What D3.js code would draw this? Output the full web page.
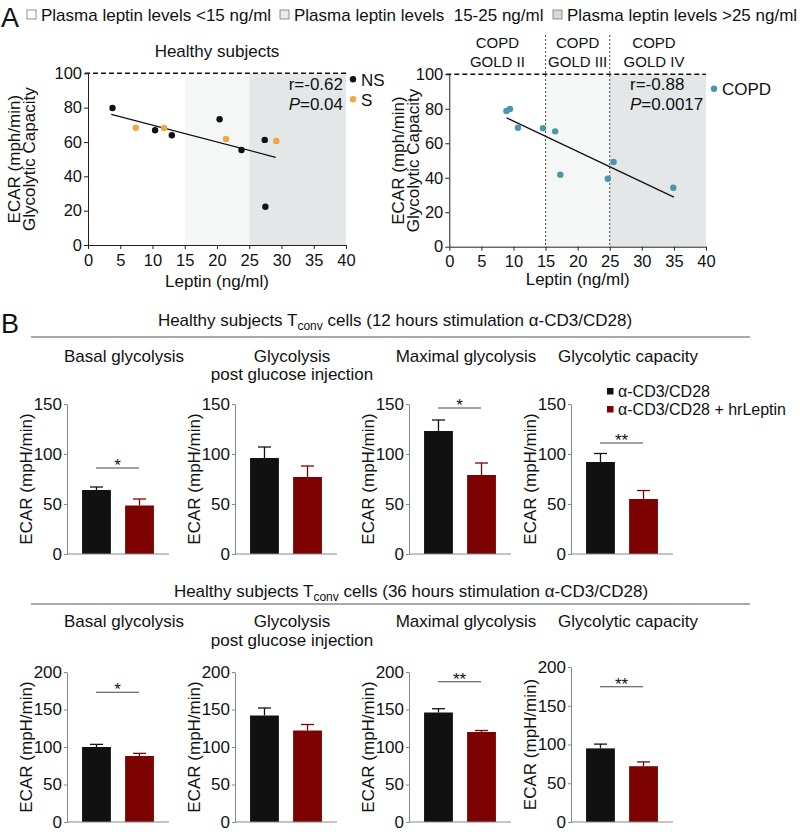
<!DOCTYPE html>
<html>
<head>
<meta charset="utf-8">
<script src="https://d3js.org/d3.v7.min.js"></script>
<style>
  body { margin: 0; background: #fff; }
  svg text { font-family: "Liberation Sans", Arial, sans-serif; fill: #111; }
</style>
</head>
<body>
<svg id="fig" width="800" height="832"></svg>
<script>
// ---------- panel A: leptin vs glycolytic capacity ----------
var nsLeptin = [3.8, 10.4, 13.0, 20.4, 23.8, 27.4, 27.5];
var nsEcar = [79.8, 66.8, 63.9, 73.2, 55.3, 61.2, 22.3];
var sLeptin = [7.4, 11.8, 21.4, 29.2];
var sEcar = [68.3, 68.1, 61.7, 60.6];
var copdLeptin = [8.9, 9.45, 10.7, 14.6, 16.5, 17.3, 24.7, 25.6, 34.9];
var copdEcar = [78.7, 79.9, 69, 68.7, 66.9, 41.8, 39.4, 49.1, 34.2];
var healthyFit = [[3.6, 76.1], [29.1, 51.1]];
var copdFit = [[8.9, 74.8], [35, 28.8]];
var healthyStats = ["r=-0.62", "0.04"];
var copdStats = ["r=-0.88", "0.0017"];

var leptinTicks = [0, 5, 10, 15, 20, 25, 30, 35, 40];
var ecarTicks = [0, 20, 40, 60, 80, 100];
var bandLabels = ["Plasma leptin levels <15 ng/ml", "Plasma leptin levels  15-25 ng/ml", "Plasma leptin levels >25 ng/ml"];
var bandColors = ["#ffffff", "#f5f6f6", "#e4e7e8"];
var bandEdges = [0, 15, 25, 40];
var goldStages = ["GOLD II", "GOLD III", "GOLD IV"];
var goldCentres = [7.5, 20, 31.9];

// ---------- panel B: ECAR bars ----------
var measures = [["Basal glycolysis"], ["Glycolysis", "post glucose injection"], ["Maximal glycolysis"], ["Glycolytic capacity"]];
var groups = ["α-CD3/CD28", "α-CD3/CD28 + hrLeptin"];
var ctrl12 = [64, 96, 123, 92];
var ctrl12Sem = [3, 11, 11, 8.5];
var lep12 = [48.5, 77, 79, 55];
var lep12Sem = [6.5, 11, 12, 8.5];
var sig12 = ["*", "", "*", "**"];
var sig12At = [86, null, 146, 111];
var ctrl36 = [100, 142, 146, 95];
var ctrl36Sem = [3.5, 10, 5, 5.5];
var lep36 = [88, 122, 120, 72];
var lep36Sem = [3.5, 8, 2, 5.5];
var sig36 = ["*", "", "**", "**"];
var sig36At = [173, null, 187, 174.5];
var ticks12 = [0, 50, 100, 150];
var ticks36 = [0, 50, 100, 150, 200];

var barColors = ["#111111", "#7d0202"];
var chartX = [67, 235, 409, 571];

var svg = d3.select("#fig");

gen_top_legend();
gen_scatter({
  xr: [88, 346], yr: [245, 73.3],
  gold: false,
  title: "Healthy subjects",
  series: [{ x: nsLeptin, y: nsEcar, c: "#111" }, { x: sLeptin, y: sEcar, c: "#f2a541" }],
  fit: healthyFit, stats: healthyStats, statsX: 343, statsAnchor: "end",
  legend: [["NS", "#111", 79.3], ["S", "#f2a541", 99.3]], legendX: 353,
  labelX: [14, 29], xLabelY: 287
});
gen_scatter({
  xr: [449.3, 706], yr: [246.7, 74.3],
  gold: true,
  title: null,
  series: [{ x: copdLeptin, y: copdEcar, c: "#4a96ad" }],
  fit: copdFit, stats: copdStats, statsX: 630, statsAnchor: "start",
  legend: [["COPD", "#4a96ad", 88.7]], legendX: 714,
  labelX: [398, 413], xLabelY: 285
});

gen_bar_row({
  letter: true, header: "(12 hours stimulation α-CD3/CD28)", headerX: 395, headerY: 326, lineY: 337,
  titleY: [362, 380], base: 554, top: [404, 404, 404, 404], max: 150, ticks: ticks12,
  ctrl: ctrl12, ctrlSem: ctrl12Sem, lep: lep12, lepSem: lep12Sem, sig: sig12, sigAt: sig12At, legend: true
});
gen_bar_row({
  letter: false, header: "(36 hours stimulation α-CD3/CD28)", headerX: 411, headerY: 597, lineY: 604,
  titleY: [627, 646], base: 822, top: [672, 672, 672, 667], max: 200, ticks: ticks36,
  ctrl: ctrl36, ctrlSem: ctrl36Sem, lep: lep36, lepSem: lep36Sem, sig: sig36, sigAt: sig36At, legend: false
});

function gen_top_legend() {
  svg.append("text").attr("x", 1).attr("y", 27).attr("font-size", 27).text("A");
  var sx = [27, 280, 553];
  bandLabels.forEach(function (lab, i) {
    svg.append("rect")
      .attr("x", sx[i]).attr("y", 10).attr("width", 9).attr("height", 9)
      .attr("fill", i == 0 ? "#fff" : (i == 1 ? "#ebebeb" : "#d6d8d9"))
      .attr("stroke", "#777").attr("stroke-width", 0.8);
    svg.append("text")
      .attr("x", sx[i] + 14).attr("y", 21)
      .attr("font-size", 17)
      .style("white-space", "pre")
      .text(lab);
  });
}

function gen_scatter(o) {
  var x = d3.scaleLinear().domain([0, 40]).range(o.xr);
  var y = d3.scaleLinear().domain([0, 100]).range(o.yr);
  var g = svg.append("g");

  // leptin bands (15-25 and >25)
  for (var i = 1; i < bandEdges.length - 1; i++) {
    g.append("rect")
      .attr("x", x(bandEdges[i]))
      .attr("y", y(100))
      .attr("width", x(bandEdges[i + 1]) - x(bandEdges[i]))
      .attr("height", y(0) - y(100))
      .attr("fill", bandColors[i]);
  }

  // dashed line at 100
  g.append("line")
    .attr("x1", x(0) - 3).attr("x2", x(40))
    .attr("y1", y(100)).attr("y2", y(100))
    .attr("stroke", "#111").attr("stroke-width", 1.5).attr("stroke-dasharray", "5,3");

  if (o.gold) {
    [15, 25].forEach(function (v) {
      g.append("line")
        .attr("x1", x(v)).attr("x2", x(v))
        .attr("y1", 35).attr("y2", y(0))
        .attr("stroke", "#333").attr("stroke-width", 0.9).attr("stroke-dasharray", "2,2");
    });
    goldStages.forEach(function (s, i) {
      g.append("text").attr("x", x(goldCentres[i])).attr("y", 47.5)
        .attr("text-anchor", "middle").attr("font-size", 15).text("COPD");
      g.append("text").attr("x", x(goldCentres[i])).attr("y", 66.5)
        .attr("text-anchor", "middle").attr("font-size", 15).text(s);
    });
  }

  var xaxis = d3.axisBottom(x).tickValues(leptinTicks).tickSize(4).tickPadding(5).tickSizeOuter(0);
  var gx = g.append("g").attr("transform", "translate(0," + y(0) + ")").call(xaxis);
  var yaxis = d3.axisLeft(y).tickValues(ecarTicks).tickSize(4).tickPadding(2).tickSizeOuter(0);
  var gy = g.append("g").attr("transform", "translate(" + x(0) + ",0)").call(yaxis);
  [gx, gy].forEach(function (a) {
    a.selectAll("path, line").attr("stroke", "#222");
    a.selectAll("text").attr("font-size", 16.5).attr("fill", "#111").style("font-family", null);
  });

  // regression line
  g.append("path")
    .datum(o.fit)
    .attr("fill", "none").attr("stroke", "#111").attr("stroke-width", 1.3)
    .attr("d", d3.line().x(function (d) { return x(d[0]); }).y(function (d) { return y(d[1]); }));

  o.series.forEach(function (s) {
    g.selectAll(null)
      .data(s.x.map(function (v, i) { return [v, s.y[i]]; }))
      .enter().append("circle")
      .attr("cx", function (d) { return x(d[0]); })
      .attr("cy", function (d) { return y(d[1]); })
      .attr("r", 3.2)
      .attr("fill", s.c);
  });

  // stats
  g.append("text").attr("x", o.statsX).attr("y", 90).attr("font-size", 17)
    .attr("text-anchor", o.statsAnchor).text(o.stats[0]);
  var p = g.append("text").attr("x", o.statsX).attr("y", 110).attr("font-size", 17)
    .attr("text-anchor", o.statsAnchor);
  p.append("tspan").attr("font-style", "italic").text("P");
  p.append("tspan").text("=" + o.stats[1]);

  // legend
  o.legend.forEach(function (l) {
    g.append("circle").attr("cx", o.legendX).attr("cy", l[2]).attr("r", 3.2).attr("fill", l[1]);
    g.append("text").attr("x", o.legendX + 8).attr("y", l[2] + 6.5).attr("font-size", 17).text(l[0]);
  });

  if (o.title) {
    g.append("text").attr("x", 217).attr("y", 57).attr("text-anchor", "middle")
      .attr("font-size", 17).text(o.title);
  }

  // axis titles
  var cy = (o.yr[0] + o.yr[1]) / 2;
  ["ECAR (mph/min)", "Glycolytic Capacity"].forEach(function (t, i) {
    g.append("text")
      .attr("transform", "translate(" + o.labelX[i] + "," + cy + ") rotate(-90)")
      .attr("dy", "0.35em").attr("text-anchor", "middle").attr("font-size", 17).text(t);
  });
  g.append("text").attr("x", (o.xr[0] + o.xr[1]) / 2).attr("y", o.xLabelY)
    .attr("text-anchor", "middle").attr("font-size", 17).text("Leptin (ng/ml)");
}

function gen_bar_row(r) {
  if (r.letter) {
    svg.append("text").attr("x", 1).attr("y", 333).attr("font-size", 27).text("B");
  }
  var h = svg.append("text").attr("x", r.headerX).attr("y", r.headerY)
    .attr("text-anchor", "middle").attr("font-size", 17);
  h.append("tspan").text("Healthy subjects T");
  h.append("tspan").attr("font-size", 12).attr("dy", 4).text("conv");
  h.append("tspan").attr("dy", -4).text(" cells " + r.header);

  svg.append("line").attr("x1", 31).attr("x2", 750).attr("y1", r.lineY).attr("y2", r.lineY)
    .attr("stroke", "#555").attr("stroke-width", 1);

  for (var i = 0; i < 4; i++) {
    var x0 = chartX[i];
    var y = d3.scaleLinear().domain([0, r.max]).range([r.base, r.top[i]]);
    var x = d3.scaleBand().domain(groups).range([x0, x0 + 102]).paddingInner(0.33).paddingOuter(0.35);
    var g = svg.append("g");

    measures[i].forEach(function (t, k) {
      g.append("text").attr("x", x0 + 57).attr("y", r.titleY[k])
        .attr("text-anchor", "middle").attr("font-size", 17).text(t);
    });

    var vals = [[r.ctrl[i], r.ctrlSem[i]], [r.lep[i], r.lepSem[i]]];

    // error bars first, bars drawn over them
    vals.forEach(function (v, k) {
      var cx = x(groups[k]) + x.bandwidth() / 2;
      g.append("line").attr("x1", cx).attr("x2", cx).attr("y1", y(v[0])).attr("y2", y(v[0] + v[1]))
        .attr("stroke", barColors[k]).attr("stroke-width", 1.3);
      g.append("line").attr("x1", cx - 6.5).attr("x2", cx + 6.5).attr("y1", y(v[0] + v[1])).attr("y2", y(v[0] + v[1]))
        .attr("stroke", barColors[k]).attr("stroke-width", 1.3);
    });
    g.selectAll(null).data(vals).enter().append("rect")
      .attr("x", function (d, k) { return x(groups[k]); })
      .attr("y", function (d) { return y(d[0]); })
      .attr("width", x.bandwidth())
      .attr("height", function (d) { return r.base - y(d[0]); })
      .attr("fill", function (d, k) { return barColors[k]; });

    var yaxis = d3.axisLeft(y).tickValues(r.ticks).tickSize(3).tickPadding(2).tickSizeOuter(0);
    var gy = g.append("g").attr("transform", "translate(" + x0 + ",0)").call(yaxis);
    gy.selectAll("path, line").attr("stroke", "#888");
    gy.selectAll("text").attr("font-size", 17).attr("fill", "#111").style("font-family", null);
    g.append("line").attr("x1", x0).attr("x2", x0 + 102).attr("y1", r.base).attr("y2", r.base)
      .attr("stroke", "#888").attr("stroke-width", 1);

    g.append("text")
      .attr("transform", "translate(" + (x0 - 41) + "," + ((r.base + r.top[i]) / 2) + ") rotate(-90)")
      .attr("dy", "0.35em").attr("text-anchor", "middle").attr("font-size", 17).text("ECAR (mpH/min)");

    if (r.sig[i]) {
      var sy = y(r.sigAt[i]);
      g.append("line").attr("x1", x0 + 29).attr("x2", x0 + 72).attr("y1", sy).attr("y2", sy)
        .attr("stroke", "#444").attr("stroke-width", 1);
      g.append("text").attr("x", x0 + 50.5).attr("y", sy + 3).attr("text-anchor", "middle")
        .attr("font-size", 17).text(r.sig[i]);
    }
  }

  if (r.legend) {
    groups.forEach(function (gname, k) {
      svg.append("rect").attr("x", 607).attr("y", 388 + k * 18).attr("width", 6.5).attr("height", 6.5)
        .attr("fill", barColors[k]);
      svg.append("text").attr("x", 618).attr("y", 397 + k * 18).attr("font-size", 16).text(gname);
    });
  }
}
</script>
</body>
</html>
